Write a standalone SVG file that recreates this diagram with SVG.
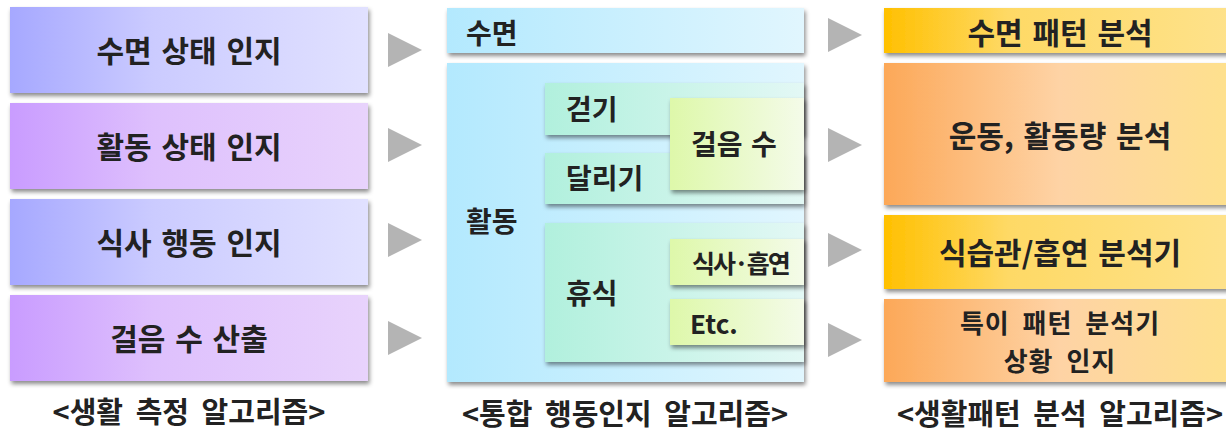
<svg xmlns="http://www.w3.org/2000/svg" width="1226" height="432" viewBox="0 0 1226 432">
<defs>
<linearGradient id="gBlue" x1="0" y1="0" x2="1" y2="0"><stop offset="0" stop-color="#a6a8ff"/><stop offset="0.4" stop-color="#cbcbff"/><stop offset="1" stop-color="#e1e1ff"/></linearGradient>
<linearGradient id="gViolet" x1="0" y1="0" x2="1" y2="0"><stop offset="0" stop-color="#c99cff"/><stop offset="0.4" stop-color="#dec0fd"/><stop offset="1" stop-color="#e8d3fc"/></linearGradient>
<linearGradient id="gSky" x1="0" y1="0" x2="1" y2="0"><stop offset="0" stop-color="#b3e9fe"/><stop offset="1" stop-color="#e1f6fe"/></linearGradient>
<linearGradient id="gMint" x1="0" y1="0" x2="1" y2="0"><stop offset="0" stop-color="#b1f0dd"/><stop offset="1" stop-color="#e3f8f5"/></linearGradient>
<linearGradient id="gLime" x1="0" y1="0" x2="1" y2="0"><stop offset="0" stop-color="#def8aa"/><stop offset="1" stop-color="#f4fbe9"/></linearGradient>
<linearGradient id="gYellow" x1="0" y1="0" x2="1" y2="0"><stop offset="0" stop-color="#ffc000"/><stop offset="0.35" stop-color="#fed965"/><stop offset="1" stop-color="#fee28c"/></linearGradient>
<linearGradient id="gOrange" x1="0" y1="0" x2="1" y2="0"><stop offset="0" stop-color="#fca858"/><stop offset="0.5" stop-color="#fed3a5"/><stop offset="1" stop-color="#fee18c"/></linearGradient>
<filter id="sh" x="-5%" y="-20%" width="112%" height="150%"><feDropShadow dx="1.5" dy="3" stdDeviation="2" flood-color="#000" flood-opacity="0.45"/></filter>
</defs>
<style>
.t{font-family:"Noto Sans CJK KR","Noto Sans",sans-serif;font-weight:bold;fill:#222;dominant-baseline:central}
.c{text-anchor:middle}
.big{font-size:30px;word-spacing:3px}
.two{font-size:26px;word-spacing:6px;letter-spacing:1px}
.mid{font-size:28px}
.cap{font-size:29px;word-spacing:6px;text-anchor:middle}
.arr{fill:#b4b4b4}
</style>
<g id="connectors">
<polygon class="arr" points="388,33 422,50 388,67"/>
<polygon class="arr" points="388,128 422,145 388,162"/>
<polygon class="arr" points="388,223 422,240 388,257"/>
<polygon class="arr" points="388,321 422,338 388,355"/>
<polygon class="arr" points="828,18 862,35 828,52"/>
<polygon class="arr" points="828,128 862,145 828,162"/>
<polygon class="arr" points="828,233 862,250 828,267"/>
<polygon class="arr" points="828,323 862,340 828,357"/>
</g>
<g id="n-sleep-aware"><rect x="10" y="7" width="358" height="86" fill="url(#gBlue)" filter="url(#sh)"/><text class="t c big" x="189" y="49">수면 상태 인지</text></g>
<g id="n-activity-aware"><rect x="10" y="103" width="358" height="86" fill="url(#gViolet)" filter="url(#sh)"/><text class="t c big" x="189" y="145">활동 상태 인지</text></g>
<g id="n-meal-aware"><rect x="10" y="199" width="358" height="86" fill="url(#gBlue)" filter="url(#sh)"/><text class="t c big" x="189" y="241">식사 행동 인지</text></g>
<g id="n-steps-calc"><rect x="10" y="295" width="358" height="86" fill="url(#gViolet)" filter="url(#sh)"/><text class="t c big" x="189" y="337">걸음 수 산출</text></g>

<g id="n-sleep"><rect x="447" y="8" width="357" height="45" fill="url(#gSky)" filter="url(#sh)"/><text class="t mid" x="466" y="32">수면</text></g>
<g id="n-activity"><rect x="447" y="63" width="357" height="319" fill="url(#gSky)" filter="url(#sh)"/><text class="t mid" x="466" y="220">활동</text></g>
<g id="n-walk"><rect x="545" y="83" width="259" height="52" fill="url(#gMint)" filter="url(#sh)"/><text class="t mid" x="566" y="108">걷기</text></g>
<g id="n-run"><rect x="545" y="153" width="259" height="51" fill="url(#gMint)" filter="url(#sh)"/><text class="t mid" x="566" y="177">달리기</text></g>
<g id="n-stepcount"><rect x="670" y="98" width="134" height="92" fill="url(#gLime)" filter="url(#sh)"/><text class="t mid" x="691" y="143" word-spacing="2">걸음 수</text></g>
<g id="n-rest"><rect x="545" y="223" width="259" height="139" fill="url(#gMint)" filter="url(#sh)"/><text class="t mid" x="566" y="292">휴식</text></g>
<g id="n-meal-smoke"><rect x="670" y="239" width="134" height="46" fill="url(#gLime)" filter="url(#sh)"/><text class="t" x="692" y="262" font-size="25" letter-spacing="-2">식사·흡연</text></g>
<g id="n-etc"><rect x="670" y="299" width="134" height="46" fill="url(#gLime)" filter="url(#sh)"/><text class="t" x="690" y="322" font-size="26">Etc.</text></g>

<g id="n-sleep-pattern"><rect x="884" y="8" width="352" height="45" fill="url(#gYellow)" filter="url(#sh)"/><text class="t c big" x="1060" y="31">수면 패턴 분석</text></g>
<g id="n-exercise"><rect x="884" y="63" width="352" height="142" fill="url(#gOrange)" filter="url(#sh)"/><text class="t c big" x="1060" y="134">운동, 활동량 분석</text></g>
<g id="n-diet"><rect x="884" y="215" width="352" height="74" fill="url(#gYellow)" filter="url(#sh)"/><text class="t c big" x="1060" y="251">식습관/흡연 분석기</text></g>
<g id="n-unusual"><rect x="884" y="299" width="352" height="83" fill="url(#gOrange)" filter="url(#sh)"/><text class="t c two"><tspan x="1060" y="321">특이 패턴 분석기</tspan><tspan x="1060" y="359">상황 인지</tspan></text></g>

<g id="captions">
<text class="t cap" x="189" y="410">&lt;생활 측정 알고리즘&gt;</text>
<text class="t cap" x="625" y="412">&lt;통합 행동인지 알고리즘&gt;</text>
<text class="t cap" x="1060" y="412">&lt;생활패턴 분석 알고리즘&gt;</text>
</g>
</svg>
